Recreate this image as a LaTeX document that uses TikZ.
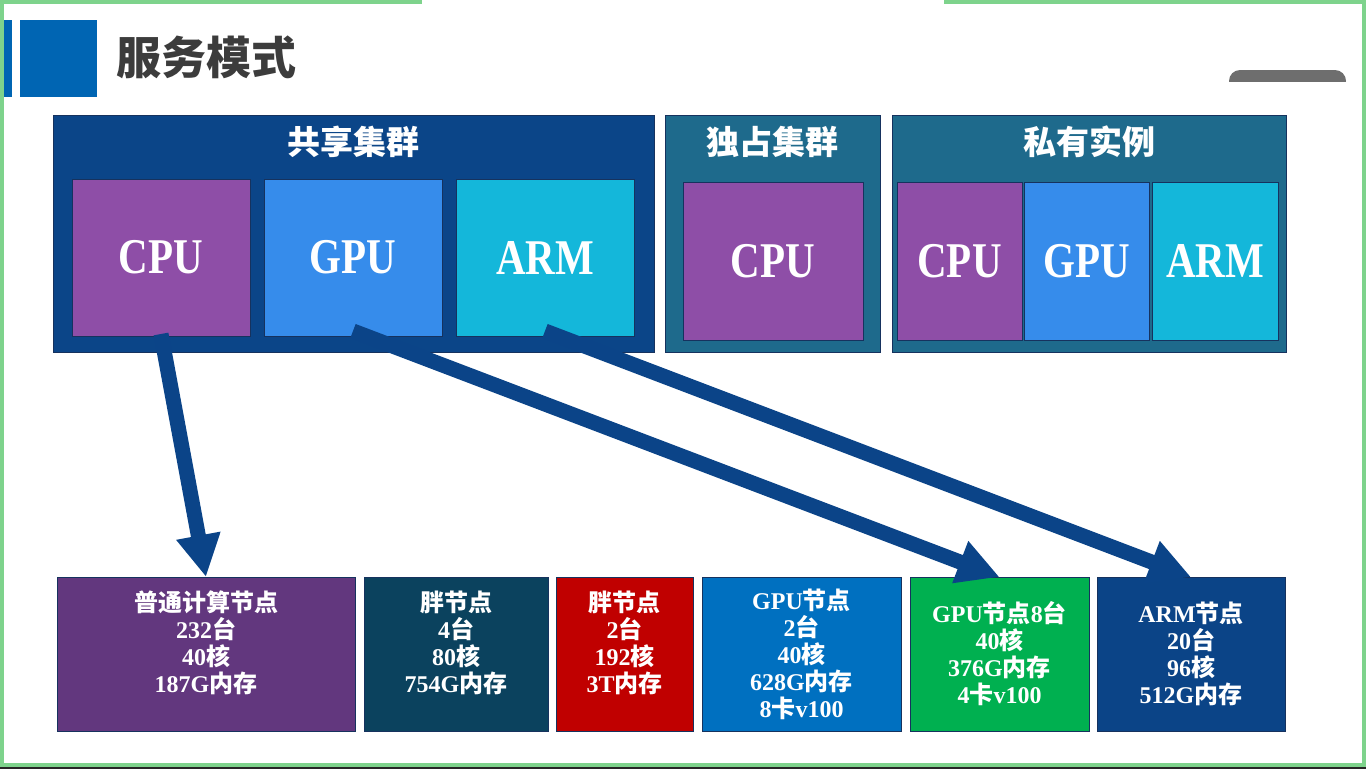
\documentclass[tikz,border=0pt]{standalone}
\usepackage{fontspec}
\usetikzlibrary{arrows.meta}
\setmainfont{Liberation Serif}
\newfontfamily\cjk{Noto Sans CJK SC}
\newfontfamily\capsfont{Liberation Serif}[FakeStretch=0.82]
\newcommand\zhs[1]{{\cjk #1}}

\definecolor{framegreen}{HTML}{7ED38C}
\definecolor{titleblue}{HTML}{0065B3}
\definecolor{titlegrey}{HTML}{3C3C3C}
\definecolor{sharec}{HTML}{0B4588}
\definecolor{tealc}{HTML}{1E6A8C}
\definecolor{cpuc}{HTML}{8E4EA7}
\definecolor{gpuc}{HTML}{368CEB}
\definecolor{armc}{HTML}{14B7DA}
\definecolor{edgec}{HTML}{16325E}
\definecolor{nodepurple}{HTML}{62377E}
\definecolor{nodeteal}{HTML}{0B425E}
\definecolor{nodered}{HTML}{C00000}
\definecolor{nodeblue}{HTML}{0070C0}
\definecolor{nodegreen}{HTML}{00B050}
\definecolor{nodenavy}{HTML}{0B4487}
\definecolor{arrowc}{HTML}{0B4488}
\definecolor{pillgrey}{HTML}{6E6E6E}

\begin{document}
\begin{tikzpicture}[x=1pt,y=-1pt,
  blk/.style={rectangle, inner sep=0pt, outer sep=0pt, anchor=north west,
    line width=0.8pt, draw=edgec, text=white},
  unit/.style={blk, font=\capsfont\bfseries\fontsize{50}{50}\selectfont},
  head/.style={font=\cjk\bfseries\fontsize{33}{33}\selectfont, text=white, inner sep=0pt},
  info/.style={font=\bfseries\fontsize{24}{27}\selectfont, text=white, align=center, inner sep=0pt},
  bigarrow/.style={draw=arrowc, line width=15pt, -{Triangle[width=42pt,length=42pt]}}]

\useasboundingbox (0,0) rectangle (1366,769);
\fill[white] (0,0) rectangle (1366,769);

% page heading
\fill[titleblue] (0,20) rectangle (12,97);
\fill[titleblue] (20,20) rectangle (97,97);
\node[anchor=west, inner sep=0pt, text=titlegrey,
  font=\cjk\bfseries\fontsize{45}{45}\selectfont] (title) at (116,57) {服务模式};

% screen-share indicator
\begin{scope}
  \clip (1220,60) rectangle (1350,81);
  \fill[pillgrey, rounded corners=11pt] (1229,70) rectangle (1346,92);
\end{scope}

% cluster groups
\node[blk, fill=sharec, minimum width=601pt, minimum height=237pt] (share) at (53,115) {};
\node[head] at ([yshift=-27pt]share.north) {共享集群};
\node[unit, fill=cpuc, minimum width=178pt, minimum height=157pt] (s-cpu) at (72,179) {CPU};
\node[unit, fill=gpuc, minimum width=178pt, minimum height=157pt] (s-gpu) at (264,179) {GPU};
\node[unit, fill=armc, minimum width=178pt, minimum height=157pt] (s-arm) at (456,179) {ARM};

\node[blk, fill=tealc, minimum width=215pt, minimum height=237pt] (excl) at (665,115) {};
\node[head] at ([yshift=-27pt]excl.north) {独占集群};
\node[unit, fill=cpuc, minimum width=180pt, minimum height=158pt] (e-cpu) at (683,182) {CPU};

\node[blk, fill=tealc, minimum width=394pt, minimum height=237pt] (priv) at (892,115) {};
\node[head] at ([yshift=-27pt]priv.north) {私有实例};
\node[unit, fill=cpuc, minimum width=125pt, minimum height=158pt] (p-cpu) at (897,182) {CPU};
\node[unit, fill=gpuc, minimum width=125pt, minimum height=158pt] (p-gpu) at (1024,182) {GPU};
\node[unit, fill=armc, minimum width=126pt, minimum height=158pt] (p-arm) at (1152,182) {ARM};

% node pools
\node[blk, fill=nodepurple, minimum width=298pt, minimum height=154pt] (n1) at (57,577) {};
\node[blk, fill=nodeteal, minimum width=184pt, minimum height=154pt] (n2) at (364,577) {};
\node[blk, fill=nodered, minimum width=137pt, minimum height=154pt] (n3) at (556,577) {};
\node[blk, fill=nodeblue, minimum width=199pt, minimum height=154pt] (n4) at (702,577) {};
\node[blk, fill=nodegreen, minimum width=179pt, minimum height=154pt] (n5) at (910,577) {};
\node[blk, fill=nodenavy, minimum width=188pt, minimum height=154pt] (n6) at (1097,577) {};

\node[info, anchor=north] at ([yshift=-14pt]n1.north)
  {\zhs{普通计算节点}\\232\zhs{台}\\40\zhs{核}\\187G\zhs{内存}};
\node[info, anchor=north] at ([yshift=-14pt]n2.north)
  {\zhs{胖节点}\\4\zhs{台}\\80\zhs{核}\\754G\zhs{内存}};
\node[info, anchor=north] at ([yshift=-14pt]n3.north)
  {\zhs{胖节点}\\2\zhs{台}\\192\zhs{核}\\3T\zhs{内存}};
\node[info] at (n4.center)
  {GPU\zhs{节点}\\2\zhs{台}\\40\zhs{核}\\628G\zhs{内存}\\8\zhs{卡}v100};
\node[info] at (n5.center)
  {GPU\zhs{节点}8\zhs{台}\\40\zhs{核}\\376G\zhs{内存}\\4\zhs{卡}v100};
\node[info] at (n6.center)
  {ARM\zhs{节点}\\20\zhs{台}\\96\zhs{核}\\512G\zhs{内存}};

% mapping arrows
\draw[bigarrow] ([yshift=2pt]s-cpu.south) -- (n1.north);
\draw[bigarrow] ([yshift=5pt]s-gpu.south) -- (n5.north);
\draw[bigarrow] ([yshift=5pt]s-arm.south) -- (n6.north);

% frame
\fill[framegreen] (0,0) rectangle (422,4);
\fill[framegreen] (944,0) rectangle (1366,4);
\fill[framegreen] (0,0) rectangle (4,767);
\fill[framegreen] (1362,0) rectangle (1366,767);
\fill[framegreen] (0,763) rectangle (1366,767);
\fill[black!85] (0,767) rectangle (1366,769);
\end{tikzpicture}
\end{document}
